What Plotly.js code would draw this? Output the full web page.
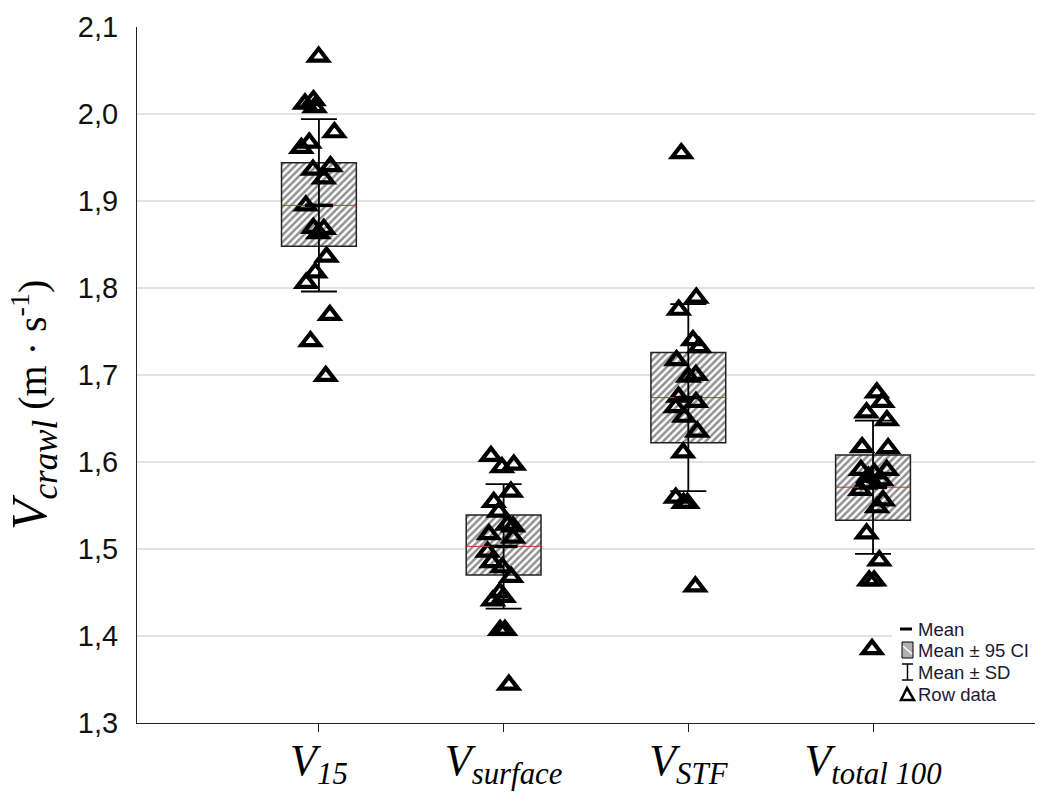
<!DOCTYPE html>
<html>
<head>
<meta charset="utf-8">
<script src="https://cdn.plot.ly/plotly-3.0.1.min.js"></script>
<style>html,body{margin:0;padding:0;background:#fff;}#chart{width:1041px;height:795px;}</style>
</head>
<body>
<div id="chart"></div>
<script>
// ---- data ----
const categories = ['V15', 'Vsurface', 'VSTF', 'Vtotal 100'];
const tickLabels = ['<i>V<sub>15</sub></i>', '<i>V<sub>surface</sub></i>', '<i>V<sub>STF</sub></i>', '<i>V<sub>total 100</sub></i>'];

const v15 = [2.066, 2.016, 2.012, 2.008, 1.979, 1.967, 1.961, 1.940, 1.936, 1.926,
             1.895, 1.869, 1.863, 1.868, 1.836, 1.818, 1.806, 1.769, 1.739, 1.699];
const vSurface = [1.607, 1.597, 1.594, 1.566, 1.554, 1.543, 1.528, 1.526, 1.517, 1.513,
                  1.497, 1.485, 1.479, 1.468, 1.450, 1.445, 1.441, 1.407, 1.407, 1.344];
const vSTF = [1.955, 1.789, 1.775, 1.740, 1.732, 1.717, 1.700, 1.698, 1.675, 1.669,
              1.663, 1.652, 1.635, 1.611, 1.559, 1.553, 1.553, 1.457];
const vTotal100 = [1.680, 1.669, 1.657, 1.648, 1.617, 1.616, 1.591, 1.591, 1.587, 1.583,
                   1.579, 1.575, 1.568, 1.556, 1.548, 1.518, 1.487, 1.464, 1.464, 1.385];

const means = [1.895, 1.503, 1.674, 1.571];
const ciLow = [1.848, 1.470, 1.622, 1.533];
const ciHigh = [1.944, 1.539, 1.726, 1.608];
const sds = [0.099, 0.0715, 0.1075, 0.0765];

const legendLabels = ['Mean', 'Mean \u00b1 95 CI', 'Mean \u00b1 SD', 'Row data'];

// ---- build traces ----
const groups = [v15, vSurface, vSTF, vTotal100];
const idx = categories.map((c, i) => i);

const boxTrace = {
  type: 'bar', x: idx, base: ciLow, y: ciHigh.map((h, i) => h - ciLow[i]),
  width: 0.405, hoverinfo: 'skip', showlegend: false,
  marker: {
    color: '#ffffff',
    line: {color: '#222', width: 1.5},
    pattern: {shape: '/', fgcolor: '#222', bgcolor: '#ffffff', size: 5, solidity: 0.5, fillmode: 'overlay'}
  }
};

const mx = [], my = [];
idx.forEach(i => { mx.push(i - 0.2025, i + 0.2025, null); my.push(means[i], means[i], null); });
const meanRed = {type: 'scatter', mode: 'lines', x: mx, y: my, line: {color: '#c0392b', width: 1}, showlegend: false, hoverinfo: 'skip'};

const sdTrace = {
  type: 'scatter', mode: 'markers', x: idx, y: means, showlegend: false,
  marker: {symbol: 'line-ew-open', size: 20, color: '#000', line: {width: 3.5, color: '#000'}},
  error_y: {type: 'data', array: sds, visible: true, color: '#000', thickness: 1.8, width: 18}
};

const px = [], py = [];
groups.forEach((g, i) => g.forEach(v => { px.push(i); py.push(v); }));
const pointsTrace = {
  type: 'box', x: px, y: py, boxpoints: 'all', jitter: 0.9, pointpos: 0, width: 0.22,
  fillcolor: 'rgba(0,0,0,0)', line: {width: 0, color: 'rgba(0,0,0,0)'}, whiskerwidth: 0,
  marker: {symbol: 'triangle-up-open', size: 16, color: '#000', line: {width: 4.2, color: '#000'}},
  showlegend: false, hoverinfo: 'y'
};

// ---- legend (paper coordinates) ----
const plotL = 137, plotR = 1035, plotT = 27, plotB = 723;
const pxX = p => (p - plotL) / (plotR - plotL);
const pxY = p => (plotB - p) / (plotB - plotT);
const rowY = [629, 650, 672, 694];

const shapes = [
  {type: 'rect', xref: 'paper', yref: 'paper', x0: pxX(892), x1: 1.0, y0: pxY(708), y1: pxY(612), fillcolor: '#fff', line: {width: 0}, layer: 'above'},
  {type: 'line', xref: 'paper', yref: 'paper', x0: pxX(900), x1: pxX(912), y0: pxY(rowY[0]), y1: pxY(rowY[0]), line: {color: '#000', width: 3}},
  {type: 'rect', xref: 'paper', yref: 'paper', x0: pxX(902), x1: pxX(913), y0: pxY(658), y1: pxY(642), fillcolor: '#b0b0b0', line: {color: '#000', width: 1}},
  {type: 'line', xref: 'paper', yref: 'paper', x0: pxX(903), x1: pxX(912), y0: pxY(646), y1: pxY(654), line: {color: '#fff', width: 1.5}},
  {type: 'line', xref: 'paper', yref: 'paper', x0: pxX(907.5), x1: pxX(907.5), y0: pxY(680), y1: pxY(664), line: {color: '#000', width: 1.5}},
  {type: 'line', xref: 'paper', yref: 'paper', x0: pxX(902), x1: pxX(913), y0: pxY(664), y1: pxY(664), line: {color: '#000', width: 1.5}},
  {type: 'line', xref: 'paper', yref: 'paper', x0: pxX(902), x1: pxX(913), y0: pxY(680), y1: pxY(680), line: {color: '#000', width: 1.5}},
  {type: 'path', xref: 'paper', yref: 'paper',
   path: 'M ' + pxX(907) + ' ' + pxY(688) + ' L ' + pxX(901) + ' ' + pxY(700) + ' L ' + pxX(914) + ' ' + pxY(700) + ' Z',
   line: {color: '#000', width: 2.5}}
];

const annotations = legendLabels.map((t, i) => ({
  xref: 'paper', yref: 'paper', x: pxX(916), y: pxY(rowY[i]), xanchor: 'left', yanchor: 'middle',
  text: t, showarrow: false, font: {family: 'Liberation Sans, Arial, sans-serif', size: 18.5, color: '#1a1a33'}
}));
annotations.push({
  xref: 'paper', yref: 'paper', x: pxX(33), y: pxY(405), xanchor: 'center', yanchor: 'middle', textangle: -90,
  showarrow: false,
  text: '<span style="font-size:50px"><i>V<sub>crawl</sub></i></span> (m · s<sup>-1</sup>)',
  font: {family: 'Liberation Serif, Times New Roman, serif', size: 40, color: '#000'}
});

const layout = {
  width: 1041, height: 795,
  margin: {l: plotL, r: 1041 - plotR, t: plotT, b: 795 - plotB},
  paper_bgcolor: '#fff', plot_bgcolor: '#fff',
  separators: ',.',
  showlegend: false,
  xaxis: {
    range: [-0.985, 3.877], tickvals: idx, ticktext: tickLabels,
    ticks: 'outside', ticklen: 8, tickcolor: '#222', tickwidth: 1, ticklabelstandoff: -10,
    showline: true, linecolor: '#222', linewidth: 1, showgrid: false, zeroline: false,
    tickfont: {family: 'Liberation Serif, Times New Roman, serif', size: 44, color: '#000'}
  },
  yaxis: {
    range: [1.3, 2.1], tick0: 1.3, dtick: 0.1, tickformat: '.1f',
    ticks: 'outside', ticklen: 12, tickcolor: 'rgba(0,0,0,0)',
    showline: true, linecolor: '#222', linewidth: 1,
    showgrid: true, gridcolor: '#e3e3e3', gridwidth: 2, zeroline: false,
    tickfont: {family: 'Liberation Sans, Arial, sans-serif', size: 29, color: '#111'}
  },
  shapes: shapes,
  annotations: annotations
};

Plotly.newPlot('chart', [boxTrace, meanRed, sdTrace, pointsTrace], layout, {displayModeBar: false, staticPlot: true});
</script>
</body>
</html>
